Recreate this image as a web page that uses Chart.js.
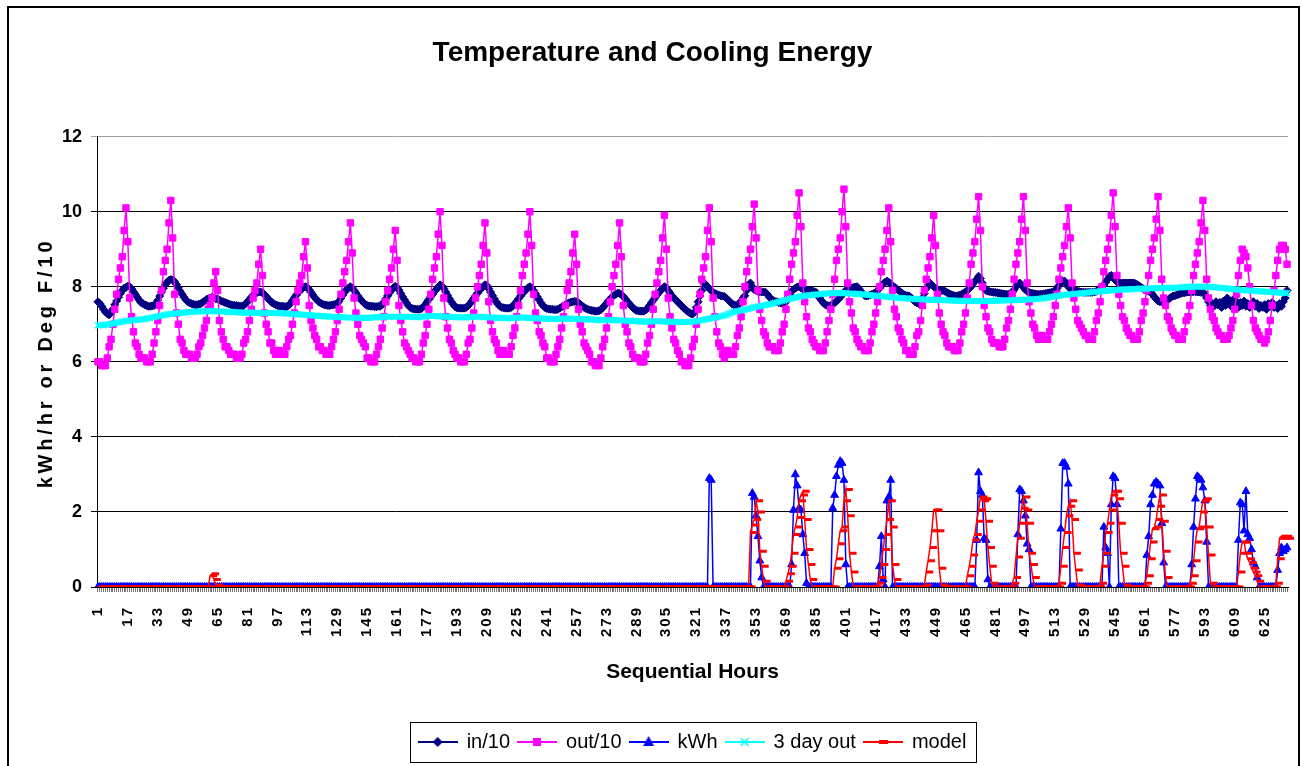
<!DOCTYPE html>
<html>
<head>
<meta charset="utf-8">
<title>Temperature and Cooling Energy</title>
<script src="https://cdn.jsdelivr.net/npm/chart.js@4/dist/chart.umd.min.js"></script>
<style>
  html, body { margin: 0; padding: 0; background: #fff; }
  #wrap { width: 1302px; height: 766px; }
  canvas { display: block; }
</style>
</head>
<body>
<div id="wrap"><canvas id="chart" width="1302" height="766"></canvas></div>
<script>
// outdoor temperature in deg F (plotted as out/10), one row per 24 hours
const outdoorF = [
  [60,60,59,59,59,61,64,66,70,74,78,82,85,88,95,101,92,77,72,68,65,64,62,61],
  [61,61,60,60,60,62,65,68,71,75,79,84,87,90,97,103,93,78,73,70,66,65,63,62],
  [62,62,61,61,61,62,64,65,67,69,71,74,75,77,81,84,79,71,68,66,64,64,63,62],
  [62,62,61,61,61,62,65,66,68,71,74,77,79,81,86,90,83,73,70,68,65,65,63,62],
  [63,63,62,62,62,64,66,67,70,73,76,79,81,83,88,92,85,75,71,69,67,66,64,64],
  [63,63,62,62,62,64,66,68,71,74,78,81,84,87,92,97,89,77,73,70,67,66,65,64],
  [61,61,60,60,60,62,64,66,69,72,76,79,82,85,90,95,87,75,71,68,65,64,63,62],
  [61,61,60,60,60,62,65,67,70,74,78,82,85,88,94,100,91,77,72,69,66,65,63,62],
  [61,61,60,60,60,62,65,66,69,73,77,80,83,86,91,97,89,76,71,68,66,65,63,62],
  [63,63,62,62,62,64,67,69,72,75,79,83,86,89,94,100,91,78,73,71,68,67,65,64],
  [61,61,60,60,60,62,64,66,69,72,75,79,81,84,89,94,86,74,70,68,65,64,63,62],
  [60,60,59,59,59,61,64,66,69,72,76,80,83,86,91,97,88,75,70,68,65,64,62,61],
  [61,61,60,60,60,62,65,67,70,74,78,81,84,87,93,99,90,77,72,69,66,65,63,62],
  [60,60,59,59,59,61,64,66,70,74,78,82,85,88,95,101,92,77,72,68,65,64,62,61],
  [63,63,62,62,62,64,67,69,72,76,80,84,87,90,96,102,93,79,74,71,68,67,65,64],
  [64,64,63,63,63,65,68,70,74,78,82,86,89,92,99,105,96,81,76,72,69,68,66,65],
  [64,64,63,63,63,65,68,71,74,78,82,87,90,93,100,106,96,81,76,73,69,68,66,65],
  [64,64,63,63,63,65,68,70,73,76,80,84,87,90,95,101,92,79,74,72,69,68,66,65],
  [63,63,62,62,62,64,67,68,71,75,79,82,85,88,93,99,91,78,73,70,68,67,65,64],
  [64,64,63,63,63,65,68,70,73,77,81,86,89,92,98,104,95,80,75,72,69,68,66,65],
  [65,65,64,64,64,66,69,71,74,78,82,86,89,92,98,104,95,81,76,73,70,69,67,66],
  [67,67,66,66,66,68,70,72,75,78,82,85,88,91,96,101,93,81,77,74,71,70,69,68],
  [67,67,66,66,66,68,71,73,76,80,84,87,90,93,99,105,96,83,78,75,72,71,69,68],
  [67,67,66,66,66,68,71,73,76,79,83,87,90,93,98,104,95,82,77,75,72,71,69,68],
  [67,67,66,66,66,68,71,72,75,79,83,86,89,92,97,103,95,82,77,74,72,71,69,68],
  [67,67,66,66,66,67,69,71,74,78,83,87,90,89,88,85,80,75,71,69,68,67,66,66],
  [65,66,68,71,75,79,83,87,90,91,91,90,86]
];

// indoor temperature x 10 (in/10 in hundredths), one row per 24 hours
const indoorX10 = [
  [760,755,748,740,733,728,725,730,740,752,762,772,782,790,796,798,802,800,795,787,780,772,765,758],
  [755,752,750,748,748,749,750,755,764,775,786,796,805,812,817,819,818,814,806,797,788,780,772,765],
  [760,757,755,753,752,752,753,755,758,762,766,768,770,772,770,768,767,765,762,760,758,756,754,752],
  [751,750,750,749,748,748,750,755,760,766,772,777,781,784,786,786,784,780,774,768,763,758,755,752],
  [750,749,748,748,747,747,750,756,763,770,777,783,789,794,798,800,798,792,785,778,771,765,760,757],
  [754,752,751,750,750,751,752,753,755,762,770,778,786,792,797,800,797,790,783,776,769,763,758,753],
  [750,749,748,748,747,747,748,748,752,760,768,776,784,791,797,801,798,791,782,773,765,757,750,745],
  [742,741,740,740,740,742,746,752,759,766,773,780,787,793,799,805,802,795,786,777,768,760,753,747],
  [744,743,743,743,743,745,749,755,762,769,776,783,789,795,800,805,803,795,786,777,768,760,753,748],
  [745,744,743,743,743,745,749,755,761,768,775,781,787,792,797,800,797,790,782,773,765,757,750,745],
  [742,741,740,740,739,739,740,743,746,749,752,755,757,759,760,761,760,757,753,749,745,742,740,738],
  [737,736,735,735,736,739,744,750,756,762,768,773,777,780,783,782,779,774,768,762,756,750,745,740],
  [737,736,735,735,735,738,743,750,757,764,771,778,784,790,796,800,797,790,783,776,770,765,760,755],
  [750,745,740,736,732,729,727,732,745,760,775,790,810,806,800,795,790,785,782,780,778,776,775,774],
  [770,765,760,755,752,750,751,755,762,770,776,790,805,810,800,792,790,788,787,786,786,785,780,773],
  [768,764,761,760,758,757,756,755,760,770,780,788,792,796,799,800,797,794,792,790,790,790,789,787],
  [785,778,770,763,757,752,750,749,750,753,757,761,766,772,778,784,790,793,795,797,798,799,800,795],
  [788,782,777,775,776,778,780,782,785,790,796,802,808,812,815,812,808,803,799,795,791,787,783,779],
  [777,776,775,770,765,760,757,755,760,770,782,795,805,810,805,800,796,793,791,790,790,788,785,782],
  [780,778,776,775,776,778,780,783,786,790,795,800,808,815,820,828,822,810,798,790,788,787,786,785],
  [785,784,783,782,781,780,780,780,780,785,792,800,806,810,805,798,792,788,785,783,782,781,780,780],
  [780,780,781,782,783,784,785,786,790,796,803,810,815,815,808,800,795,792,790,789,788,787,786,785],
  [785,785,785,785,785,786,788,792,796,800,804,812,820,828,830,825,818,813,810,810,810,810,810,810],
  [810,810,810,808,805,802,798,795,792,790,788,786,780,773,767,762,760,760,760,762,765,768,772,775],
  [776,778,780,782,783,784,785,786,786,786,787,787,786,786,785,785,780,770,760,750,755,748,760,752],
  [758,745,762,750,770,755,748,765,752,760,745,758,750,762,748,755,745,752,760,748,755,742,750,745],
  [752,740,755,748,758,745,750,742,755,748,760,770,790]
];

// 3 day outdoor average x 10 (in hundredths), one row per 24 hours
const threeDayX10 = [
  [697,697,698,698,699,699,700,701,702,703,704,705,706,707,708,709,709,710,710,711,711,712,712,713],
  [713,714,715,716,717,718,719,720,721,722,723,724,725,726,727,728,728,729,729,730,730,731,731,732],
  [732,733,733,733,734,734,734,734,734,735,735,735,735,735,735,735,734,734,734,734,734,733,733,733],
  [733,732,732,732,731,731,731,731,731,731,731,731,731,730,730,730,730,730,730,730,730,730,730,730],
  [730,730,729,729,729,728,728,728,727,727,727,726,726,726,725,725,725,724,724,723,723,723,722,722],
  [722,721,721,721,720,720,720,720,719,719,719,719,718,718,718,718,718,717,717,717,717,717,717,717],
  [717,717,718,718,718,719,719,719,720,720,720,720,720,720,720,720,720,720,720,720,720,720,720,720],
  [720,719,719,719,719,720,720,721,721,722,722,722,722,722,721,721,721,720,720,720,720,719,719,719],
  [719,719,718,718,718,718,719,719,720,720,720,720,720,720,719,719,719,718,718,718,718,717,717,717],
  [717,717,716,716,716,716,717,717,717,718,718,718,718,717,717,717,717,716,716,716,716,715,715,715],
  [715,715,714,714,714,714,714,715,715,715,715,715,715,715,714,714,714,714,714,713,713,713,713,713],
  [713,712,712,711,711,711,711,711,711,711,711,711,711,711,710,710,710,710,710,709,709,709,709,709],
  [708,708,707,707,707,707,707,707,708,708,708,708,708,708,708,707,707,707,707,707,706,706,706,706],
  [706,706,706,706,706,706,707,707,708,709,710,711,712,713,714,715,716,717,718,719,720,721,722,723],
  [725,727,729,731,733,734,735,736,737,738,739,740,741,743,744,745,746,747,748,749,750,751,752,753],
  [754,756,757,758,760,761,762,764,765,766,768,769,770,771,772,773,774,775,776,777,777,778,778,779],
  [779,780,780,781,781,782,782,782,783,783,783,783,783,783,783,783,783,782,782,782,782,781,781,781],
  [780,780,779,779,778,778,777,777,776,776,775,775,774,774,773,773,772,772,771,771,770,770,770,769],
  [769,769,768,768,768,767,767,767,767,766,766,766,766,766,765,765,765,765,765,764,764,764,764,764],
  [764,763,763,763,763,762,762,762,762,762,762,762,762,762,762,762,762,762,762,762,762,762,762,763],
  [763,763,763,763,763,764,764,764,764,764,764,765,765,765,765,765,766,766,766,766,767,767,767,768],
  [768,769,770,771,771,772,773,774,775,775,776,777,778,778,779,779,780,780,781,781,782,782,783,783],
  [784,784,785,785,786,786,787,787,788,788,789,789,790,790,790,791,791,792,792,792,793,793,793,793],
  [793,794,794,794,794,795,795,795,795,795,796,796,796,796,796,796,796,797,797,797,797,797,797,797],
  [797,798,798,798,799,799,799,799,800,800,800,800,800,800,800,800,800,800,799,799,799,799,798,798],
  [797,797,796,796,795,795,794,794,793,793,792,792,791,791,790,790,790,789,789,789,788,788,788,787],
  [787,787,786,786,786,785,785,785,784,784,784,783,783]
];

// cooling energy kWh/hr: [first hour, values...]; every other hour is 0
const kwhRuns = [
  [328, [2.9, 2.85]],
  [351, [2.5, 2.4, 1.9, 1.35, 0.7, 0.25]],
  [372, [0.6, 2.05, 3.0, 2.7, 2.1, 2.05, 1.4, 0.9, 0.1]],
  [394, [2.1, 2.45, 2.95, 3.25, 3.35, 3.3, 2.85, 0.6]],
  [419, [0.55, 1.35, 0.2, 0, 2.3, 2.4, 2.85]],
  [471, [1.25, 3.05, 2.55, 2.45, 1.3, 1.25, 0.2]],
  [493, [1.4, 2.6, 2.55, 2.3, 1.9, 1.15, 1.0]],
  [516, [1.55, 3.3, 3.3, 3.2, 2.75]],
  [539, [1.6, 1.05, 0.9, 0, 2.2, 2.95, 2.9, 2.2]],
  [562, [0.85, 1.35, 2.2, 2.45, 2.75, 2.8, 2.75, 2.7, 1.7, 0.65]],
  [586, [0.6, 1.6, 2.35, 2.95, 2.9, 2.85, 2.65, 2.3, 1.2]],
  [611, [1.25, 2.25, 2.2, 1.5, 2.55, 1.4, 1.3, 1.0, 0.65, 0.55, 0.25]],
  [632, [0.45, 0.9, 1.05, 0.95, 1.0, 1.05]]
];

// modelled kWh/hr, same layout
const modelRuns = [
  [61, [0.3, 0.35, 0.2, 0.05]],
  [350, [1.45, 1.65, 1.8, 2.3, 2.0, 0.95, 0.55, 0.15]],
  [369, [0.15, 0.35, 0.55, 0.9, 1.4, 1.6, 1.85, 2.3, 2.45, 2.55, 1.8, 1.0, 0.6, 0.2]],
  [395, [0.5, 0.75, 1.15, 1.5, 1.6, 2.3, 2.6, 1.9, 0.9, 0.4]],
  [418, [0.1, 0.25, 0.6, 1.0, 1.4, 1.8, 2.3, 1.6, 0.6, 0.2]],
  [443, [0.05, 0.4, 0.7, 1.05, 1.5, 2.05, 2.05, 1.5, 0.5, 0.05]],
  [466, [0.3, 0.55, 0.85, 1.25, 1.4, 1.75, 2.05, 2.4, 2.3, 2.35, 1.75, 1.05, 0.55, 0.1]],
  [490, [0.1, 0.25, 0.8, 1.3, 1.7, 2.1, 2.4, 2.05, 1.7, 0.9, 0.6, 0.25]],
  [515, [0.1, 0.55, 1.05, 1.45, 1.9, 2.15, 2.3, 1.8, 0.9, 0.45, 0.05]],
  [537, [0.1, 0.55, 0.9, 1.45, 1.7, 2.05, 2.45, 2.55, 2.55, 2.35, 1.7, 0.9, 0.55, 0.05]],
  [561, [0.1, 0.3, 0.75, 1.2, 1.55, 1.6, 1.8, 2.15, 2.45, 1.75, 0.95, 0.25]],
  [585, [0.1, 0.3, 0.7, 1.2, 1.55, 1.6, 2.0, 2.3, 2.35, 1.6, 0.85, 0.1]],
  [611, [0.4, 0.9, 1.2, 1.2, 0.9, 0.75, 0.65, 0.5, 0.4, 0.3, 0.15]],
  [631, [0.1, 0.75, 1.3, 1.35, 1.3, 1.35, 1.3]]
];

const labelStep = 16;
const yTitle = 'kWh/hr or Deg F/10';
const fontFamily = '"Liberation Sans", Arial, sans-serif';

const outside = outdoorF.flat().map(v => v / 10);
const inside = indoorX10.flat().map(v => v / 100);
const threeDay = threeDayX10.flat().map(v => v / 100);
const hours = outside.map((v, i) => String(i + 1));

function fromRuns(runs) {
  const series = hours.map(() => 0);
  runs.forEach(([start, vals]) => {
    vals.forEach((v, j) => { series[start - 1 + j] = v; });
  });
  return series;
}

const kwh = fromRuns(kwhRuns);
const model = fromRuns(modelRuns);

// legend sample: short line with the series marker on it
function legendIcon(color, marker) {
  const c = document.createElement('canvas');
  c.width = 40;
  c.height = 16;
  const g = c.getContext('2d');
  g.strokeStyle = color;
  g.fillStyle = color;
  g.lineWidth = 2;
  g.beginPath(); g.moveTo(0, 8); g.lineTo(40, 8); g.stroke();
  g.beginPath();
  if (marker === 'diamond') {
    g.moveTo(20, 3); g.lineTo(25, 8); g.lineTo(20, 13); g.lineTo(15, 8); g.closePath(); g.fill();
  } else if (marker === 'square') {
    g.fillRect(16, 4, 8, 8);
  } else if (marker === 'triangle') {
    g.moveTo(20, 2); g.lineTo(25.5, 12); g.lineTo(14.5, 12); g.closePath(); g.fill();
  } else if (marker === 'cross') {
    g.lineWidth = 1.5;
    g.moveTo(16, 4); g.lineTo(24, 12); g.moveTo(24, 4); g.lineTo(16, 12); g.stroke();
  } else {
    g.fillRect(16, 6, 9, 4);
  }
  return c;
}

const legendIcons = [
  legendIcon('#000080', 'diamond'),
  legendIcon('#FF00FF', 'square'),
  legendIcon('#0000FF', 'triangle'),
  legendIcon('#00FFFF', 'cross'),
  legendIcon('#FF0000', 'dash')
];

const framePlugin = {
  id: 'framePlugin',
  beforeDraw(chart) {
    const ctx = chart.ctx;
    ctx.save();
    ctx.fillStyle = '#fff';
    ctx.fillRect(0, 0, chart.width, chart.height);
    ctx.restore();
  },
  afterDatasetsDraw(chart) {
    // spaced x tick labels (drawn after datasets, ticks.z = 1)
    chart.ctx.letterSpacing = '2px';
  },
  afterDraw(chart) {
    const ctx = chart.ctx;
    ctx.letterSpacing = '0px';

    // legend border
    const boxes = chart.legend.legendHitBoxes;
    if (boxes && boxes.length) {
      const left = Math.min(...boxes.map(b => b.left)) - 9;
      const right = Math.max(...boxes.map(b => b.left + b.width)) + 9;
      const top = Math.min(...boxes.map(b => b.top)) - 10;
      const bottom = Math.max(...boxes.map(b => b.top + b.height)) + 10;
      ctx.save();
      ctx.strokeStyle = '#000';
      ctx.lineWidth = 1;
      ctx.strokeRect(Math.round(left) + 0.5, Math.round(top) + 0.5, Math.round(right - left), Math.round(bottom - top));
      ctx.restore();
    }

    // y axis title
    ctx.save();
    ctx.letterSpacing = '3.8px';
    ctx.translate(46, 363);
    ctx.rotate(-Math.PI / 2);
    ctx.font = 'bold 20px ' + fontFamily;
    ctx.fillStyle = '#000';
    ctx.textAlign = 'center';
    ctx.textBaseline = 'middle';
    ctx.fillText(yTitle, 0, 0);
    ctx.restore();

    // outer chart frame
    ctx.save();
    ctx.strokeStyle = '#000';
    ctx.lineWidth = 2;
    ctx.strokeRect(8, 7, 1291, 800);
    ctx.restore();
  }
};

Chart.defaults.font.family = fontFamily;
Chart.defaults.color = '#000';

new Chart(document.getElementById('chart'), {
  type: 'line',
  data: {
    labels: hours,
    datasets: [
      {
        label: 'in/10',
        data: inside,
        borderColor: '#000080',
        backgroundColor: '#000080',
        pointStyle: 'rectRot',
        pointRadius: 4,
        pointBorderWidth: 1,
        borderWidth: 1.5,
        order: 5
      },
      {
        label: 'out/10',
        data: outside,
        borderColor: '#FF00FF',
        backgroundColor: '#FF00FF',
        pointStyle: 'rect',
        pointRadius: 4.5,
        pointBorderWidth: 1,
        borderWidth: 1.5,
        order: 4
      },
      {
        label: 'kWh',
        data: kwh,
        borderColor: '#0000FF',
        backgroundColor: '#0000FF',
        pointStyle: 'triangle',
        pointRadius: 4.5,
        pointBorderWidth: 1,
        borderWidth: 1.5,
        order: 3
      },
      {
        label: '3 day out',
        data: threeDay,
        borderColor: '#00FFFF',
        backgroundColor: '#00FFFF',
        pointStyle: 'crossRot',
        pointRadius: 4,
        pointBorderWidth: 1.5,
        borderWidth: 1.5,
        order: 2
      },
      {
        label: 'model',
        data: model,
        borderColor: '#FF0000',
        backgroundColor: '#FF0000',
        pointStyle: 'dash',
        pointRadius: 7,
        pointBorderWidth: 3,
        borderWidth: 1.5,
        order: 1
      }
    ]
  },
  options: {
    responsive: false,
    animation: false,
    events: [],
    layout: { padding: { left: 17, right: 14, top: 0, bottom: 4 } },
    elements: { line: { tension: 0 } },
    scales: {
      x: {
        type: 'category',
        offset: true,
        afterFit(scale) {
          scale.height = 137;
          scale.paddingLeft = 0;
          scale.paddingRight = 0;
        },
        grid: {
          display: true,
          drawOnChartArea: false,
          drawTicks: true,
          tickLength: 5,
          color: '#777'
        },
        border: { display: true, color: '#000', width: 1 },
        ticks: {
          z: 1,
          autoSkip: false,
          minRotation: 90,
          maxRotation: 90,
          padding: 14,
          color: '#000',
          font: { size: 15, weight: 'bold' },
          callback: (value, index) => (index % labelStep === 0 ? hours[index] : '')
        },
        title: {
          display: true,
          text: 'Sequential Hours',
          color: '#000',
          font: { size: 21, weight: 'bold' },
          padding: { top: 0, bottom: 39 }
        }
      },
      y: {
        min: 0,
        max: 12,
        afterFit(scale) { scale.width = 80; },
        grid: {
          color: ctx => (ctx.tick && ctx.tick.value === 12 ? '#a0a0a0' : '#000'),
          lineWidth: 1,
          tickLength: 6,
          drawTicks: true
        },
        border: { display: true, color: '#000', width: 1 },
        ticks: {
          stepSize: 2,
          padding: 9,
          color: '#000',
          font: { size: 18, weight: 'bold' }
        }
      }
    },
    plugins: {
      tooltip: { enabled: false },
      title: {
        display: true,
        text: 'Temperature and Cooling Energy',
        color: '#000',
        font: { size: 28, weight: 'bold' },
        padding: { top: 36, bottom: 67 }
      },
      legend: {
        position: 'bottom',
        fullSize: false,
        labels: {
          usePointStyle: true,
          pointStyleWidth: 38,
          padding: 8,
          color: '#000',
          font: { size: 20 },
          sort: (a, b) => a.datasetIndex - b.datasetIndex,
          generateLabels(chart) {
            const items = Chart.defaults.plugins.legend.labels.generateLabels(chart);
            items.forEach(item => {
              item.pointStyle = legendIcons[item.datasetIndex];
              item.rotation = 0;
            });
            return items;
          }
        }
      }
    }
  },
  plugins: [framePlugin]
});
</script>
</body>
</html>
